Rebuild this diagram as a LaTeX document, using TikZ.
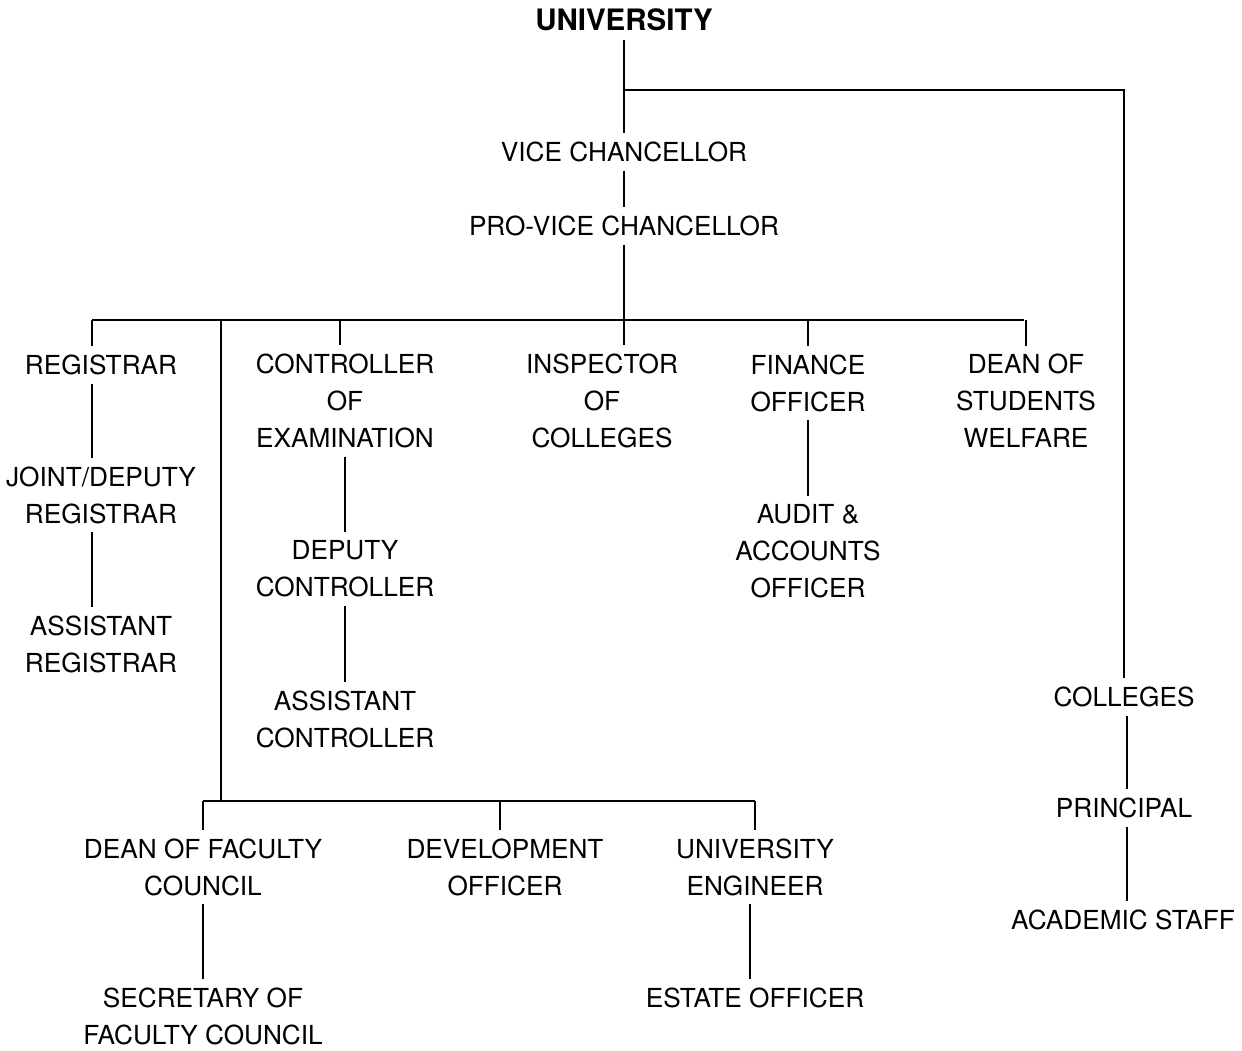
\documentclass[tikz,border=0pt]{standalone}
\usepackage{fontspec}
\setmainfont{TeX Gyre Heros}
\begin{document}
\begin{tikzpicture}[x=1pt,y=-1pt,
  lbl/.style={font=\fontsize{26.2}{37}\selectfont, align=center, inner xsep=2pt, inner ysep=8.5pt},
  conn/.style={line width=2.8pt}]
\useasboundingbox (0,0) rectangle (1242,1050);
% nodes
\node[lbl, font=\fontsize{29.5}{37}\selectfont\bfseries] (uni) at (624,20) {UNIVERSITY};
\node[lbl] (vc) at (624,152) {VICE CHANCELLOR};
\node[lbl] (pvc) at (624,226) {PRO-VICE CHANCELLOR};
\node[lbl] (reg) at (101,365) {REGISTRAR};
\node[lbl] (jd) at (101,495) {JOINT/DEPUTY\\REGISTRAR};
\node[lbl] (ar) at (101,644) {ASSISTANT\\REGISTRAR};
\node[lbl] (coe) at (345,401) {CONTROLLER\\OF\\EXAMINATION};
\node[lbl] (dc) at (345,569) {DEPUTY\\CONTROLLER};
\node[lbl] (ac) at (345,719) {ASSISTANT\\CONTROLLER};
\node[lbl] (insp) at (602,401) {INSPECTOR\\OF\\COLLEGES};
\node[lbl] (fin) at (808,383) {FINANCE\\OFFICER};
\node[lbl] (aao) at (808,551) {AUDIT \&\\ACCOUNTS\\OFFICER};
\node[lbl] (dsw) at (1026,401) {DEAN OF\\STUDENTS\\WELFARE};
\node[lbl] (dfc) at (203,867) {DEAN OF FACULTY\\COUNCIL};
\node[lbl] (sfc) at (203,1016) {SECRETARY OF\\FACULTY COUNCIL};
\node[lbl] (dev) at (505,867) {DEVELOPMENT\\OFFICER};
\node[lbl] (ue) at (755,867) {UNIVERSITY\\ENGINEER};
\node[lbl] (eo) at (755,998) {ESTATE OFFICER};
\node[lbl] (col) at (1124,697) {COLLEGES};
\node[lbl] (pri) at (1124,808) {PRINCIPAL};
\node[lbl] (acs) at (1123,920) {ACADEMIC STAFF};
% junction coordinates
\coordinate (j1) at (624,90);
\coordinate (bl) at (92,320);
\coordinate (br) at (1024,320);
\coordinate (b2) at (340,320);
\coordinate (b3) at (221,320);
\coordinate (b4) at (221,801);
\coordinate (cx) at (1127,0);
\coordinate (ex) at (750,0);
% connectors
\draw[conn] (uni.south) -- (uni.south |- vc.north);
\draw[conn] (j1) -| (col.north);
\draw[conn] (vc.south) -- (vc.south |- pvc.north);
\draw[conn] (pvc.south) -- (pvc.south |- insp.north);
\draw[conn] (bl) -- (br);
\draw[conn] (bl) -- (bl |- reg.north);
\draw[conn] (b2) -- (b2 |- coe.north);
\draw[conn] (fin.north |- bl) -- (fin.north);
\draw[conn] (dsw.north |- bl) -- (dsw.north);
\draw[conn] (b3) -- (b4);
\draw[conn] (bl |- reg.south) -- (bl |- jd.north);
\draw[conn] (bl |- jd.south) -- (bl |- ar.north);
\draw[conn] (coe.south) -- (coe.south |- dc.north);
\draw[conn] (dc.south) -- (dc.south |- ac.north);
\draw[conn] (fin.south) -- (fin.south |- aao.north);
\draw[conn] (dfc.north |- b4) -- (ue.north |- b4);
\draw[conn] (dfc.north |- b4) -- (dfc.north);
\draw[conn] (500,801) -- (500,0 |- dev.north);
\draw[conn] (ue.north |- b4) -- (ue.north);
\draw[conn] (dfc.south) -- (dfc.south |- sfc.north);
\draw[conn] (ex |- ue.south) -- (ex |- eo.north);
\draw[conn] (cx |- col.south) -- (cx |- pri.north);
\draw[conn] (cx |- pri.south) -- (cx |- acs.north);
\end{tikzpicture}
\end{document}
